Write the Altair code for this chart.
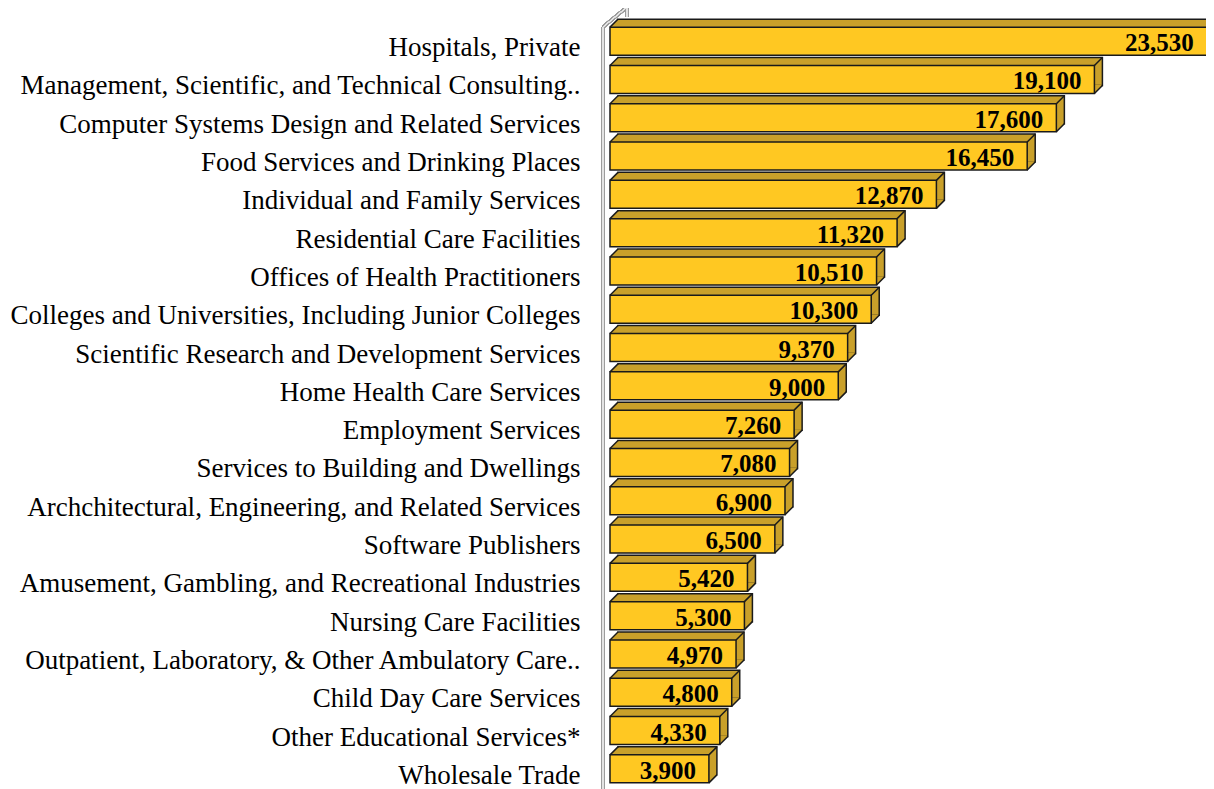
import altair as alt
import pandas as pd

categories = [
    "Hospitals, Private",
    "Management, Scientific, and Technical Consulting..",
    "Computer Systems Design and Related Services",
    "Food Services and Drinking Places",
    "Individual and Family Services",
    "Residential Care Facilities",
    "Offices of Health Practitioners",
    "Colleges and Universities, Including Junior Colleges",
    "Scientific Research and Development Services",
    "Home Health Care Services",
    "Employment Services",
    "Services to Building and Dwellings",
    "Archchitectural, Engineering, and Related Services",
    "Software Publishers",
    "Amusement, Gambling, and Recreational Industries",
    "Nursing Care Facilities",
    "Outpatient, Laboratory, & Other Ambulatory Care..",
    "Child Day Care Services",
    "Other Educational Services*",
    "Wholesale Trade",
]
values = [23530, 19100, 17600, 16450, 12870, 11320, 10510, 10300, 9370, 9000,
          7260, 7080, 6900, 6500, 5420, 5300, 4970, 4800, 4330, 3900]

df = pd.DataFrame({"category": categories, "value": values, "zero": [0] * len(values)})

FRONT = "#FFC822"
SIDE = "#C9A02A"
EDGE = "#1a1a1a"
H = 28
D = 8

xs = alt.Scale(domain=[0, 23500], nice=False, zero=True)
ys = alt.Scale(paddingInner=0, paddingOuter=0)

X = alt.X("value:Q", scale=xs, axis=None)
X0 = alt.X("zero:Q", scale=xs, axis=None)
Y = alt.Y(
    "category:N", sort=categories, scale=ys,
    axis=alt.Axis(title=None, domain=False, ticks=False, grid=False,
                  labelFont="Liberation Serif", labelFontSize=27,
                  labelColor="black", labelPadding=30, labelLimit=800,
                  labelOffset=7),
)

base = alt.Chart(df)

back = base.mark_bar(height=H, fill=SIDE, stroke=EDGE, strokeWidth=1.5,
                     xOffset=D, x2Offset=D, yOffset=-D).encode(x=X, y=Y)

tl_fill = base.mark_point(
    shape="M0,-14L7.2,-21.2L9.6,-21.2L9.6,-14Z",
    size=4, filled=True, fill=SIDE, opacity=1, strokeWidth=0,
).encode(x=X0, y=Y)

br_fill = base.mark_point(
    shape="M0,5.2L7.2,5.2L7.2,6.8L0,14Z",
    size=4, filled=True, fill=SIDE, opacity=1, strokeWidth=0,
).encode(x=X, y=Y)

front = base.mark_bar(height=H, fill=FRONT, stroke=EDGE,
                      strokeWidth=1.5).encode(x=X, y=Y)

tl_line = base.mark_point(
    shape="M0,-14L8,-22", size=4, filled=False, stroke=EDGE,
    strokeWidth=1.5, opacity=1,
).encode(x=X0, y=Y)

r_lines = base.mark_point(
    shape="M0,-14L8,-22M0,14L8,6", size=4, filled=False, stroke=EDGE,
    strokeWidth=1.5, opacity=1,
).encode(x=X, y=Y)

labels = base.mark_text(
    align="right", baseline="middle", dx=-13, dy=2,
    font="Liberation Serif", fontWeight="bold", fontSize=25, color="black",
).encode(x=X, y=Y, text=alt.Text("value:Q", format=",d"))

wall_outer = base.mark_point(
    shape="M-7,5L-7,790M-7,5L17,-15L17,-5", size=4, filled=False,
    stroke="#9C9C9C", strokeWidth=3, opacity=1,
).encode(x=alt.value(0), y=alt.value(0))
wall_inner = base.mark_point(
    shape="M-7,5L-7,790M-7,5L17,-15L17,-5", size=4, filled=False,
    stroke="#E4E4E4", strokeWidth=1, opacity=1,
).encode(x=alt.value(0), y=alt.value(0))

chart = alt.layer(
    back, wall_outer, wall_inner, tl_fill, br_fill, front, tl_line, r_lines, labels
).properties(
    width=596, height=766,
    autosize=alt.AutoSizeParams(type="none"),
    padding={"left": 602, "top": 14, "right": 0, "bottom": 3},
).configure_view(stroke=None)

chart.save("out.html", embed_options={"renderer": "svg", "actions": False})
